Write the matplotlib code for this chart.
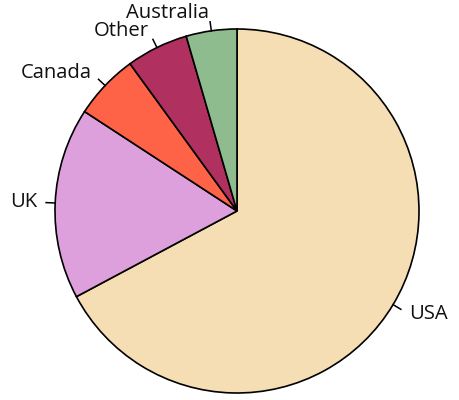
import numpy as np
import matplotlib
matplotlib.use("Agg")
import matplotlib.pyplot as plt

plt.rcParams['font.family'] = ['Open Sans', 'DejaVu Sans']

# shares (percent)
countries = ['USA', 'UK', 'Canada', 'Other', 'Australia']
shares = [67.2, 17.0, 5.8, 5.5, 4.5]
colors = ['#F5DEB3', '#DDA0DD', '#FF6347', '#B03060', '#8FBC8F']

fig = plt.figure(figsize=(4.59, 4.00), dpi=100)
ax = fig.add_axes([0, 0, 1, 1])

cx, cy, r = 237, 189, 182
wedges, texts = ax.pie(shares, labels=countries, colors=colors,
                       startangle=90, counterclock=False,
                       center=(cx, cy), radius=r, labeldistance=1.1,
                       wedgeprops=dict(edgecolor='black', linewidth=1.2),
                       textprops=dict(fontsize=14.6, color='#111111'),
                       frame=True)
ax.set_xlim(0, 459)
ax.set_ylim(0, 400)
ax.set_aspect('equal')
ax.axis('off')

for w, t in zip(wedges, texts):
    mid = np.deg2rad((w.theta1 + w.theta2) / 2)
    c, s = np.cos(mid), np.sin(mid)
    ax.plot([cx + r * c, cx + 1.05 * r * c],
            [cy + r * s, cy + 1.05 * r * s],
            color='black', lw=1.1)
    t.set_horizontalalignment('left' if c > 0 else 'right')
    t.set_verticalalignment('center')

fig.savefig('out.png', dpi=100)
